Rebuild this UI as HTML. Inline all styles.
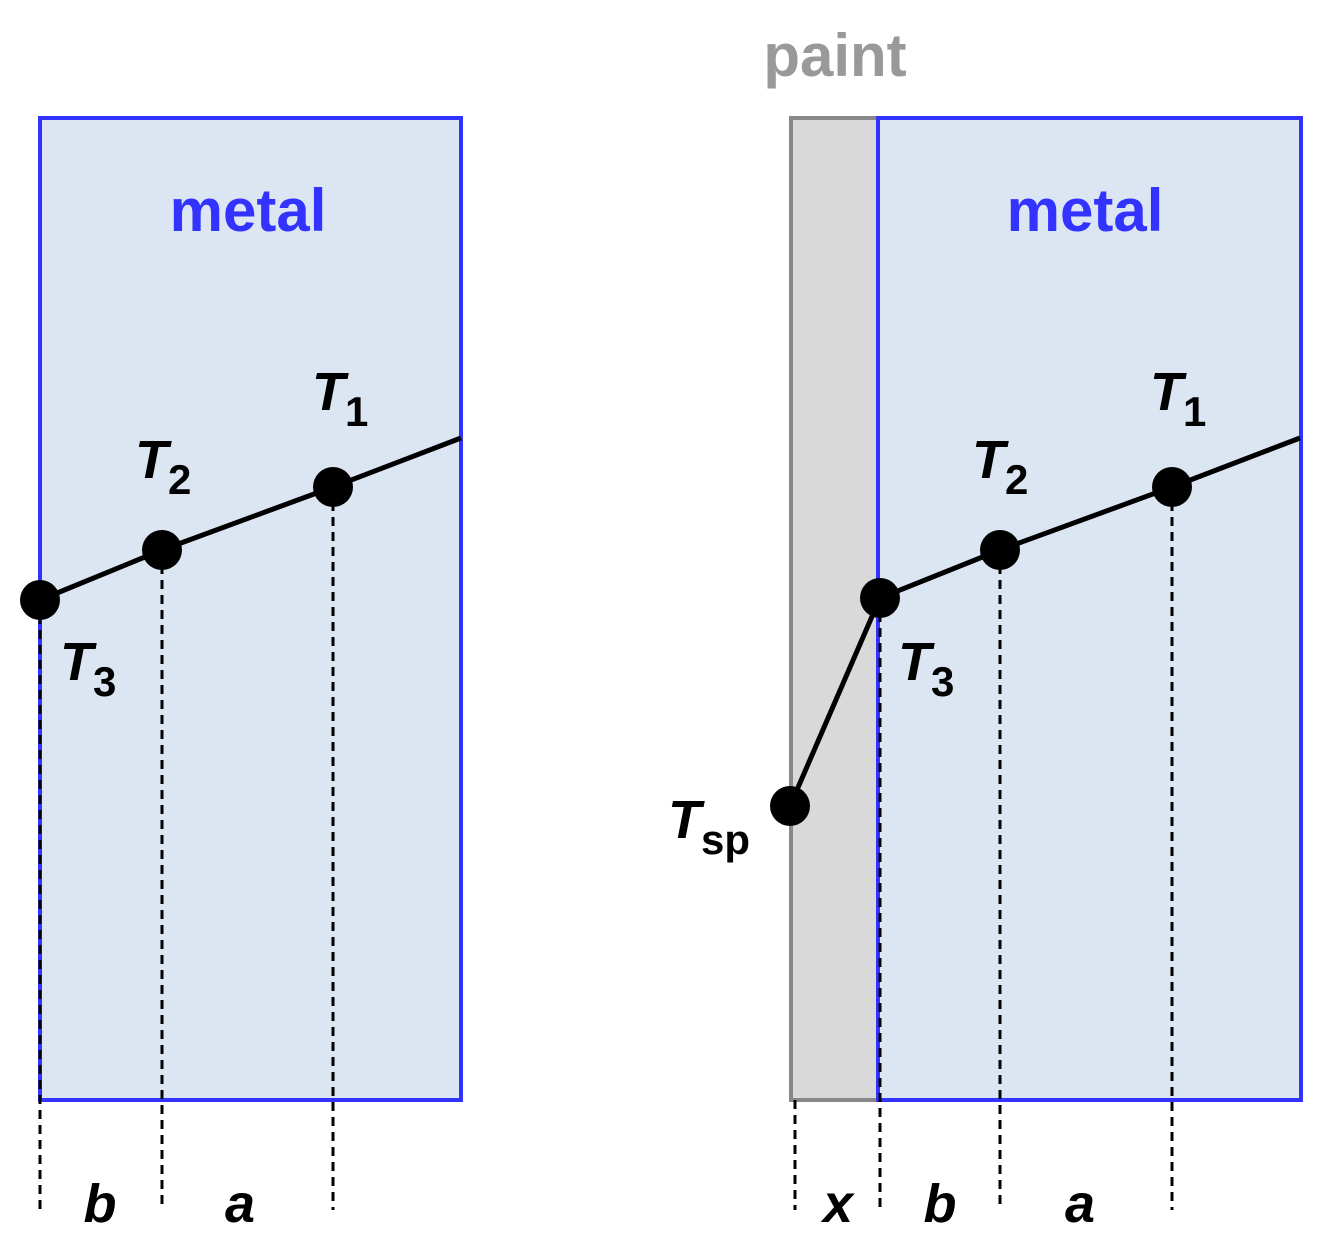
<!DOCTYPE html>
<html><head><style>body{margin:0;background:#fff}</style></head><body>
<svg width="1331" height="1251" viewBox="0 0 1331 1251" xmlns="http://www.w3.org/2000/svg" font-family="Liberation Sans, Arial, sans-serif" font-weight="bold">
<rect x="40" y="118" width="421" height="982" fill="#dce6f2" stroke="#3333ff" stroke-width="4"/>
<rect x="791" y="118" width="87" height="982" fill="#d9d9d9" stroke="#888" stroke-width="4"/>
<rect x="878" y="118" width="423" height="982" fill="#dce6f2" stroke="#3333ff" stroke-width="4"/>
<g stroke="#000" stroke-width="3" stroke-dasharray="9,6">
<line x1="40" y1="600" x2="40" y2="1210"/><line x1="162" y1="550" x2="162" y2="1210"/><line x1="333" y1="487" x2="333" y2="1210"/>
<line x1="795" y1="1100" x2="795" y2="1210"/><line x1="880" y1="598" x2="880" y2="1210"/><line x1="1000" y1="550" x2="1000" y2="1210"/><line x1="1172" y1="487" x2="1172" y2="1210"/>
</g>
<polyline points="40,600 162,550 333,487 461,438" fill="none" stroke="#000" stroke-width="5"/>
<polyline points="790,806 880,598 1000,550 1172,487 1300,438" fill="none" stroke="#000" stroke-width="5"/>
<g fill="#000">
<circle cx="40" cy="600" r="20"/><circle cx="162" cy="550" r="20"/><circle cx="333" cy="487" r="20"/>
<circle cx="790" cy="806" r="20"/><circle cx="880" cy="598" r="20"/><circle cx="1000" cy="550" r="20"/><circle cx="1172" cy="487" r="20"/>
</g>
<g fill="#3333ff" font-size="60" text-anchor="middle"><text x="248" y="231">metal</text><text x="1085" y="231">metal</text></g>
<text x="835" y="76" fill="#999" font-size="60" text-anchor="middle">paint</text>
<g fill="#000" font-style="italic" font-size="54">
<text x="312" y="410">T<tspan font-size="42" dy="16" font-style="normal">1</tspan></text>
<text x="135" y="478">T<tspan font-size="42" dy="16" font-style="normal">2</tspan></text>
<text x="60" y="680">T<tspan font-size="42" dy="16" font-style="normal">3</tspan></text>
<text x="1150" y="410">T<tspan font-size="42" dy="16" font-style="normal">1</tspan></text>
<text x="972" y="478">T<tspan font-size="42" dy="16" font-style="normal">2</tspan></text>
<text x="898" y="680">T<tspan font-size="42" dy="16" font-style="normal">3</tspan></text>
<text x="668" y="838">T<tspan font-size="42" dy="16" font-style="normal">sp</tspan></text>
<text x="100" y="1222" text-anchor="middle">b</text>
<text x="240" y="1222" text-anchor="middle">a</text>
<text x="838" y="1222" text-anchor="middle">x</text>
<text x="940" y="1222" text-anchor="middle">b</text>
<text x="1080" y="1222" text-anchor="middle">a</text>
</g>
</svg>
</body></html>
